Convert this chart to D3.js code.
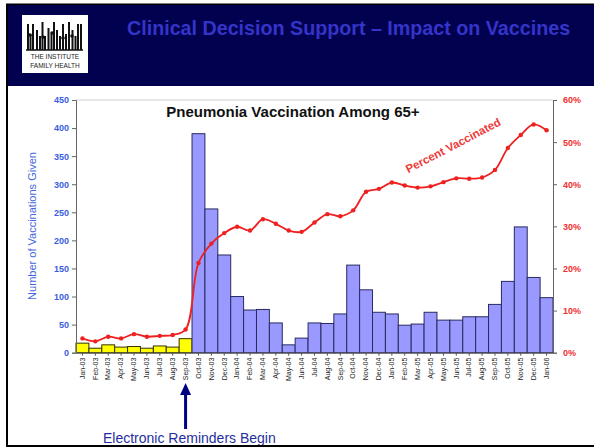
<!DOCTYPE html>
<html><head><meta charset="utf-8">
<script src="https://cdn.jsdelivr.net/npm/d3@7"></script>
<style>
html,body{margin:0;padding:0;background:#fff;}
svg{display:block;font-family:"Liberation Sans",Arial,sans-serif;}
</style></head>
<body>
<svg id="chart" width="594" height="447"></svg>
<script>
const months = ["Jan-03","Feb-03","Mar-03","Apr-03","May-03","Jun-03","Jul-03","Aug-03","Sep-03","Oct-03","Nov-03","Dec-03",
"Jan-04","Feb-04","Mar-04","Apr-04","May-04","Jun-04","Jul-04","Aug-04","Sep-04","Oct-04","Nov-04","Dec-04",
"Jan-05","Feb-05","Mar-05","Apr-05","May-05","Jun-05","Jul-05","Aug-05","Sep-05","Oct-05","Nov-05","Dec-05","Jan-06"];
const vaccinations = [17,8,14,10,11,8,12,10,25,390,256,174,
100,76,77,53,14,26,53,52,69,156,112,72,
69,49,51,72,58,58,64,64,86,127,224,134,98];
const percentVaccinated = [3.4,2.7,3.8,3.4,4.4,3.8,4.0,4.2,5.5,21.3,25.9,28.4,
29.9,29.0,31.7,30.6,29.0,28.7,30.9,32.9,32.4,33.8,38.2,38.9,
40.4,39.7,39.2,39.5,40.5,41.4,41.3,41.6,43.4,48.6,51.7,54.2,52.8];
const reminderStart = "Oct-03";
const leftTicks = [0,50,100,150,200,250,300,350,400,450];
const rightTicks = [0,10,20,30,40,50,60];

const svg = d3.select("#chart");

// slide frame
svg.append("rect").attr("x",7).attr("y",4.5).attr("width",590).attr("height",441.5)
  .attr("fill","#fff").attr("stroke","#000").attr("stroke-width",2);
svg.append("rect").attr("x",8).attr("y",5).attr("width",586).attr("height",81).attr("fill","#020150");

// logo
const logo = svg.append("g");
logo.append("rect").attr("x",22).attr("y",15).attr("width",66).attr("height",58).attr("fill","#fff");
const bx = [27,29.5,32,36,39,41.5,44,47.5,50.5,53,56,59,62,65,68,71.5,74.5,77,80];
const bh = [26,16,26,20,14,28,14,22,16,28,20,14,26,16,28,20,14,26,26];
bx.forEach((x,i)=>{
  logo.append("rect").attr("x",x).attr("y",50-bh[i]).attr("width",2).attr("height",bh[i]).attr("fill","#111");
});
logo.append("line").attr("x1",26).attr("x2",83).attr("y1",50).attr("y2",50).attr("stroke","#111").attr("stroke-width",1.5);
[[30,35],[43,37],[52,33],[63,38],[72,36]].forEach(p=>{
  logo.append("circle").attr("cx",p[0]).attr("cy",p[1]).attr("r",1.8).attr("fill","#111");
});
logo.append("text").attr("x",55).attr("y",59).attr("text-anchor","middle").attr("font-size",6.5).attr("fill","#222").text("THE INSTITUTE");
logo.append("text").attr("x",55).attr("y",68).attr("text-anchor","middle").attr("font-size",6.5).attr("fill","#222").text("FAMILY HEALTH");

// header title
svg.append("text").attr("x",127).attr("y",35).attr("font-size",19.7).attr("font-weight","bold")
  .attr("fill","#3434c8").text("Clinical Decision Support \u2013 Impact on Vaccines");

// plot geometry
const L = 76, R = 553, T = 100, B = 352.7;
const x = d3.scaleBand().domain(months).range([L,R]).padding(0);
const y = d3.scaleLinear().domain([0,450]).range([B,T]);
const y2 = d3.scaleLinear().domain([0,60]).range([B,T]);

// top border
svg.append("line").attr("x1",L).attr("x2",R).attr("y1",T).attr("y2",T).attr("stroke","#d0d0d0").attr("stroke-width",1);

// bars
const startIdx = months.indexOf(reminderStart);
svg.append("g").selectAll("rect").data(vaccinations).join("rect")
  .attr("x",(d,i)=>x(months[i]))
  .attr("y",d=>y(d))
  .attr("width",x.bandwidth())
  .attr("height",d=>B-y(d))
  .attr("fill",(d,i)=> i<startIdx ? "#ffff00" : "#9999ff")
  .attr("stroke",(d,i)=> i<startIdx ? "#333300" : "#2a2a60")
  .attr("stroke-width",1);

// left axis
const axL = svg.append("g").attr("transform",`translate(${L},0)`)
  .call(d3.axisLeft(y).tickValues(leftTicks).tickSize(4).tickPadding(3));
axL.select(".domain").attr("stroke","#666");
axL.selectAll(".tick line").attr("stroke","#666");
axL.selectAll("text").attr("fill","#3a5ee0").attr("font-size",9).attr("font-weight","bold")
  .attr("font-family","Liberation Sans, Arial, sans-serif");

// right axis
const axR = svg.append("g").attr("transform",`translate(${R},0)`)
  .call(d3.axisRight(y2).tickValues(rightTicks).tickSize(4).tickPadding(6).tickFormat(d=>d+"%"));
axR.select(".domain").attr("stroke","#666");
axR.selectAll(".tick line").attr("stroke","#666");
axR.selectAll("text").attr("fill","#f03030").attr("font-size",9).attr("font-weight","bold")
  .attr("font-family","Liberation Sans, Arial, sans-serif");

// bottom axis
const axB = svg.append("g").attr("transform",`translate(0,${B})`)
  .call(d3.axisBottom(x).tickSize(3).tickSizeOuter(0));
axB.select(".domain").attr("stroke","#555");
axB.selectAll(".tick line").attr("stroke","#555");
axB.selectAll("text").attr("font-size",7).attr("fill","#222")
  .attr("font-family","Liberation Sans, Arial, sans-serif")
  .attr("transform","rotate(-90)").attr("text-anchor","end")
  .attr("x",-5).attr("y",0).attr("dy","0.32em");

// y axis title
svg.append("text").attr("transform",`translate(36,226) rotate(-90)`).attr("text-anchor","middle")
  .attr("font-size",11).attr("fill","#4466dd").text("Number of Vaccinations Given");

// percent line
const line = d3.line().x((d,i)=>x(months[i])+x.bandwidth()/2).y(d=>y2(d)).curve(d3.curveCatmullRom.alpha(0.5));
svg.append("path").datum(percentVaccinated).attr("d",line).attr("fill","none").attr("stroke","#ee2020").attr("stroke-width",1.8);
svg.append("g").selectAll("circle").data(percentVaccinated).join("circle")
  .attr("cx",(d,i)=>x(months[i])+x.bandwidth()/2).attr("cy",d=>y2(d)).attr("r",2.2).attr("fill","#ee2020");

svg.append("text").attr("transform","translate(455,149) rotate(-27.5)").attr("text-anchor","middle")
  .attr("font-size",11.5).attr("font-weight","bold").attr("fill","#f03a3a").text("Percent Vaccinated");

// chart title
svg.append("text").attr("x",293).attr("y",117).attr("text-anchor","middle").attr("font-size",15).attr("font-weight","bold")
  .attr("fill","#111").text("Pneumonia Vaccination Among 65+");

// arrow
const ax = x("Sep-03")+x.bandwidth()/2;
svg.append("line").attr("x1",ax).attr("x2",ax).attr("y1",429).attr("y2",392).attr("stroke","#000080").attr("stroke-width",3);
svg.append("path").attr("d",`M${ax},383 L${ax-5.5},395 L${ax+5.5},395 Z`).attr("fill","#000080");
svg.append("text").attr("x",103).attr("y",443).attr("font-size",14).attr("fill","#1f2fa0").text("Electronic Reminders Begin");
svg.append("line").attr("x1",7).attr("x2",594).attr("y1",446).attr("y2",446).attr("stroke","#000").attr("stroke-width",2);
</script>
</body></html>
